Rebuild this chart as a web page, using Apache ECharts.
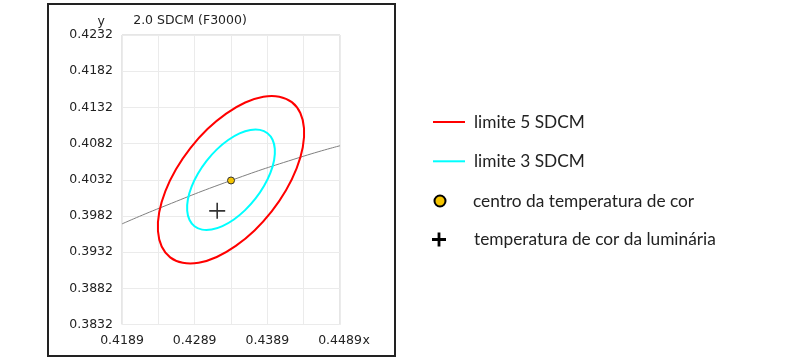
<!DOCTYPE html>
<html>
<head>
<meta charset="utf-8">
<script src="https://cdn.jsdelivr.net/npm/echarts@6/dist/echarts.min.js"></script>
<style>html,body{margin:0;padding:0;background:#fff}#c{width:800px;height:360px}</style>
</head>
<body>
<div id="c"></div>
<script>
// ---- data ----
const titleText = '2.0 SDCM (F3000)';
const xMin = 0.4189, xMax = 0.4489, yMin = 0.3832, yMax = 0.4232, step = 0.005;

const red5X = [0.42831,0.42633,0.42487,0.42402,0.42385,0.42436,0.42553,0.42726,0.42945,0.43194,0.43456,0.43714,0.43950,0.44147,0.44293,0.44378,0.44395,0.44344,0.44227,0.44054,0.43835,0.43586,0.43324,0.43066];
const red5Y = [0.40757,0.40465,0.40163,0.39871,0.39611,0.39398,0.39248,0.39172,0.39173,0.39253,0.39406,0.39620,0.39883,0.40175,0.40477,0.40769,0.41030,0.41242,0.41392,0.41468,0.41467,0.41387,0.41234,0.41020];

const cyan3X = [0.43054,0.42936,0.42848,0.42797,0.42787,0.42818,0.42888,0.42992,0.43123,0.43272,0.43430,0.43584,0.43726,0.43844,0.43932,0.43983,0.43993,0.43962,0.43892,0.43788,0.43657,0.43508,0.43351,0.43196];
const cyan3Y = [0.40582,0.40407,0.40226,0.40051,0.39894,0.39767,0.39677,0.39631,0.39632,0.39680,0.39771,0.39900,0.40058,0.40233,0.40414,0.40589,0.40746,0.40873,0.40963,0.41009,0.41008,0.40960,0.40869,0.40740];

const locusX = [0.4189, 0.4241, 0.4339, 0.4434, 0.4489];
const locusY = [0.3971, 0.3993, 0.4031, 0.4063, 0.4079];

const centerX = [0.4339], centerY = [0.4031];
const lumX = [0.4320], lumY = [0.3989];

const names = ['limite 5 SDCM', 'limite 3 SDCM', 'centro da temperatura de cor', 'temperatura de cor da luminária'];

const zip = (a, b) => a.map((v, i) => [v, b[i]]);
const fmt = v => v.toFixed(4);

const chart = echarts.init(document.getElementById('c'), null, {renderer: 'canvas'});
const crossThin = 'path://M7.2,0H8.8V7.2H16V8.8H8.8V16H7.2V8.8H0V7.2H7.2Z';
const crossThick = 'path://M5.6,0H8.4V5.6H14V8.4H8.4V14H5.6V8.4H0V5.6H5.6Z';
const legendText = {fontFamily: 'Lato', fontSize: 17.3, color: '#222', lineHeight: 20};

function ellipseSeries(name, xs, ys, color) {
  const pts = zip(xs, ys);
  return {
    name: name, type: 'custom', data: pts, silent: true, z: 3,
    encode: {x: 0, y: 1},
    itemStyle: {color: color},
    renderItem: function (params, api) {
      if (params.dataIndex !== 0) return null;
      const screen = pts.map(p => api.coord(p));
      return {
        type: 'polygon',
        shape: {points: screen, smooth: 0.33},
        style: {fill: 'none', stroke: color, lineWidth: 2}
      };
    }
  };
}

chart.setOption({
  animation: false,
  backgroundColor: '#fff',
  title: {
    text: titleText, left: 190, top: 14, textAlign: 'center', padding: 0,
    textStyle: {fontFamily: 'DejaVu Sans', fontSize: 12.5, fontWeight: 'normal', color: '#222'}
  },
  graphic: [{
    type: 'rect', shape: {x: 48, y: 4, width: 347, height: 352},
    style: {fill: 'none', stroke: '#222', lineWidth: 2}, silent: true
  }],
  grid: {left: 122, top: 35, width: 218, height: 289.5, show: true, borderColor: '#cccccc', borderWidth: 1, backgroundColor: 'transparent'},
  legend: [
    {data: [{name: names[0], icon: 'rect', itemStyle: {color: '#ff0000'}}, {name: names[1], icon: 'rect', itemStyle: {color: '#00ffff'}}],
     orient: 'vertical', left: 433, top: 112, padding: 0, itemWidth: 32, itemHeight: 2, itemGap: 19.3,
     selectedMode: false, textStyle: Object.assign({padding: [0, 0, 0, 4]}, legendText)},
    {data: [{name: names[2], icon: 'circle', itemStyle: {color: '#f5c400', borderColor: '#000', borderWidth: 2}}],
     orient: 'vertical', left: 433.5, top: 191, padding: 0, itemWidth: 11, itemHeight: 11, selectedMode: false,
     textStyle: Object.assign({padding: [0, 0, 0, 22.5]}, legendText)},
    {data: [{name: names[3], icon: crossThick, itemStyle: {color: '#000'}}],
     orient: 'vertical', left: 432, top: 229.5, padding: 0, itemWidth: 14, itemHeight: 14, selectedMode: false,
     textStyle: Object.assign({padding: [0, 0, 0, 23]}, legendText)}
  ],
  xAxis: {
    type: 'value', min: xMin, max: xMax, interval: step,
    name: 'x', nameLocation: 'end', nameGap: 22.5, nameMoveOverlap: false,
    nameTextStyle: {fontFamily: 'DejaVu Sans', fontSize: 12.5, color: '#222', align: 'left', verticalAlign: 'top', padding: [9.5, 0, 0, 0]},
    axisLine: {show: false}, axisTick: {show: false},
    axisLabel: {
      margin: 9.5, fontFamily: 'DejaVu Sans', fontSize: 12.5, color: '#222',
      formatter: v => (Math.round((v - xMin) / step) % 2 === 0 ? fmt(v) : '')
    },
    splitLine: {show: true, lineStyle: {color: '#ebebeb', width: 1}}
  },
  yAxis: {
    type: 'value', min: yMin, max: yMax, interval: step,
    name: 'y', nameLocation: 'end', nameGap: 7, nameMoveOverlap: false,
    nameTextStyle: {fontFamily: 'DejaVu Sans', fontSize: 12.5, color: '#222', align: 'right', padding: [0, 17, 0, 0]},
    axisLine: {show: false}, axisTick: {show: false},
    axisLabel: {margin: 9, fontFamily: 'DejaVu Sans', fontSize: 12.5, color: '#222', formatter: fmt},
    splitLine: {show: true, lineStyle: {color: '#ebebeb', width: 1}}
  },
  series: [
    {name: 'locus', type: 'line', data: zip(locusX, locusY), smooth: true, showSymbol: false, silent: true,
     lineStyle: {color: '#808080', width: 1}, z: 2},
    ellipseSeries(names[0], red5X, red5Y, '#ff0000'),
    ellipseSeries(names[1], cyan3X, cyan3Y, '#00ffff'),
    {name: names[2], type: 'scatter', data: zip(centerX, centerY), symbol: 'circle', symbolSize: 7, silent: true,
     itemStyle: {color: '#f5c400', borderColor: '#333', borderWidth: 1, opacity: 1}, z: 5},
    {name: names[3], type: 'scatter', data: zip(lumX, lumY), symbol: crossThin, symbolSize: 16, silent: true,
     itemStyle: {color: '#333', opacity: 1}, z: 5}
  ]
});
</script>
</body>
</html>
